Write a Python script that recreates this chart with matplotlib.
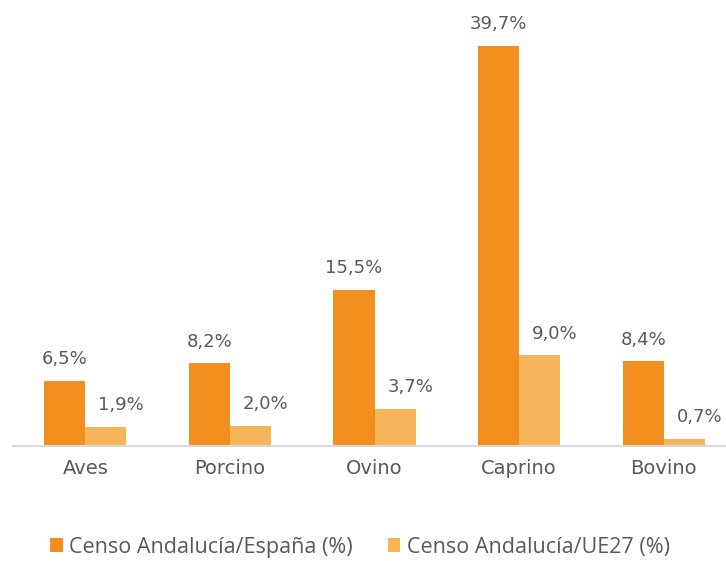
import matplotlib.pyplot as plt
import numpy as np

# datos
categorias = ["Aves", "Porcino", "Ovino", "Caprino", "Bovino"]
espana = [6.5, 8.2, 15.5, 39.7, 8.4]
ue27 = [1.9, 2.0, 3.7, 9.0, 0.7]
etiquetas_serie = ["Censo Andalucía/España (%)", "Censo Andalucía/UE27 (%)"]

col_esp = "#F28E1E"
col_ue = "#F7B55A"
gris = "#595959"

fig = plt.figure(figsize=(7.26, 5.61), dpi=100)
ax = fig.add_axes([13 / 726, 115 / 561, 713 / 726, 403 / 561])

x = np.arange(len(categorias))
w = 0.284
b1 = ax.bar(x - w / 2, espana, w, color=col_esp, label=etiquetas_serie[0])
b2 = ax.bar(x + w / 2, ue27, w, color=col_ue, label=etiquetas_serie[1])

def fmt(v):
    return f"{v:.1f}%".replace(".", ",")

for xi, v in zip(x - w / 2, espana):
    ax.annotate(fmt(v), (xi, v), xytext=(0, 12), textcoords="offset points",
                ha="center", va="baseline", fontsize=13, color=gris)
for xi, v in zip(x + w / 2, ue27):
    ax.annotate(fmt(v), (xi, v), xytext=(11, 12), textcoords="offset points",
                ha="center", va="baseline", fontsize=13, color=gris)

ax.set_xlim(-0.5, 4.43)
ax.set_ylim(0, 40)
ax.set_xticks(x)
ax.set_xticklabels(categorias, fontsize=14, color=gris)
ax.tick_params(axis="x", length=0, pad=9)
ax.set_yticks([])
for s in ["top", "right", "left"]:
    ax.spines[s].set_visible(False)
ax.spines["bottom"].set_color("#D9D9D9")
ax.spines["bottom"].set_linewidth(1.5)

leg = fig.legend(handles=[b1, b2], loc="center", bbox_to_anchor=(360 / 726, 1 - 547 / 561),
                 ncol=2, frameon=False, handlelength=0.6, handleheight=0.6,
                 handletextpad=0.3, columnspacing=1.6, prop={"family": "Open Sans", "size": 15.5})
for t in leg.get_texts():
    t.set_color(gris)

fig.savefig("out.png", dpi=100)
